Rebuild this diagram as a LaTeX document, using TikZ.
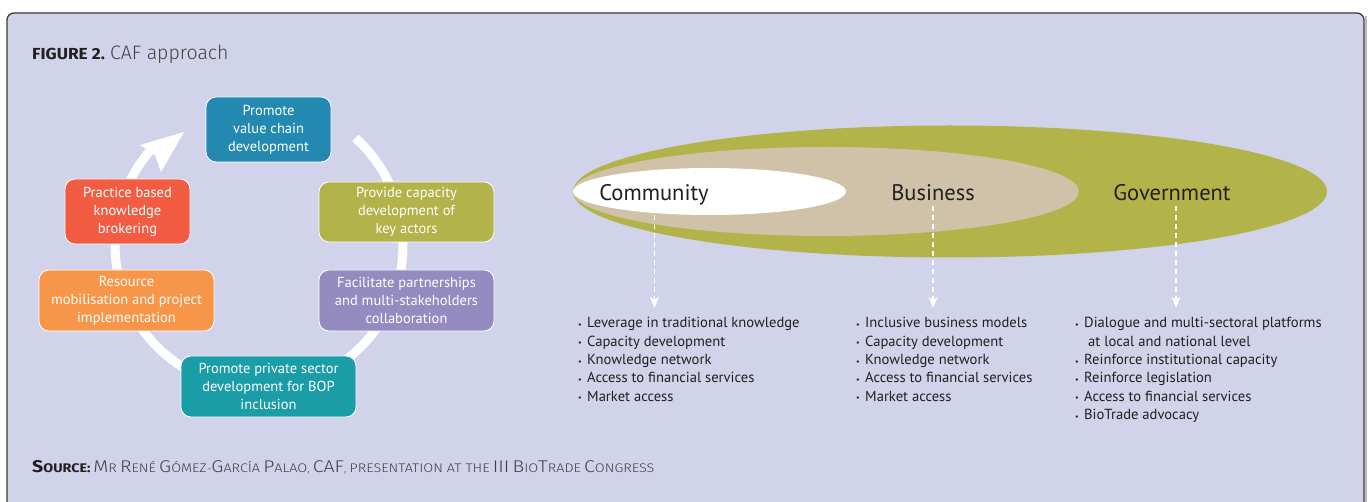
\documentclass[tikz,border=0pt]{standalone}
\usepackage{fontspec}
\setmainfont{PT Sans}
\newfontfamily\fira{Fira Sans}[FakeStretch=1.08]
\newfontfamily\firalight{Fira Sans Light}
\newfontfamily\firalightw{Fira Sans Light}[FakeStretch=1.15]
\newfontfamily\firaw{Fira Sans}[FakeStretch=1.15]
\usetikzlibrary{arrows.meta}
\definecolor{bgc}{HTML}{D0D3EA}
\definecolor{framec}{HTML}{3A3A3C}
\definecolor{cA}{HTML}{2389B0}
\definecolor{cB}{HTML}{B2B34A}
\definecolor{cC}{HTML}{948CC1}
\definecolor{cD}{HTML}{1A9DA7}
\definecolor{cE}{HTML}{F79649}
\definecolor{cF}{HTML}{F15C43}
\definecolor{olive}{HTML}{B2B348}
\definecolor{beige}{HTML}{CFC2A8}
\definecolor{txt}{HTML}{231F20}
\definecolor{srcgray}{HTML}{414042}
\newcommand{\bl}{\makebox[9pt][l]{\fontsize{8}{8}\selectfont\raisebox{0.5pt}{•}}}
\newcommand{\BG}[1]{{\fontsize{17}{17}\selectfont #1}}
\newcommand{\SM}[1]{{\fontsize{12.5}{12.5}\selectfont #1}}
\tikzset{
  box/.style={draw=white, line width=0.8pt, rounded corners=10pt, text=white,
    align=center, inner sep=0pt, font=\fontsize{14.5}{18}\selectfont},
  lbl/.style={inner sep=0pt, text=txt, font=\fontsize{22.5}{22.5}\selectfont},
  item/.style={inner sep=0pt, text=txt, font=\fontsize{14.6}{14.6}\selectfont},
  dasharrow/.style={white, line width=1.2pt, dash pattern=on 5pt off 4pt,
    -{Stealth[length=11pt,width=9pt,inset=3pt]}},
}
\begin{document}
\begin{tikzpicture}[x=1pt,y=-1pt]
\useasboundingbox (0,0) rectangle (1368,502);
\clip (0,0) rectangle (1368,502);
\fill[white] (0,0) rectangle (1368,502);
% frame
\draw[gray!55, line width=1.2pt] (1366,16) -- (1366,530);
\draw[framec, line width=1.3pt, rounded corners=7pt, fill=bgc]
  (7,540) -- (7,13) -- (1364,13) -- (1364,540);
% title
\node[anchor=base west, inner sep=0pt, text=txt] (fig) at (32,59.5)
  {\fira\bfseries\fontsize{16}{16}\selectfont FIGURE 2.};
\node[anchor=base west, inner sep=0pt, text=txt!85] (caf) at (110,59.5)
  {\firalight\fontsize{19.5}{19.5}\selectfont CAF approach};
% ring
\draw[white, line width=9pt] (259,245) ++(-48:144) arc[start angle=-48, end angle=222, radius=144];
\fill[white] (184,132) -- (140,145) -- (155,155) -- (161,172) -- cycle;
% boxes
\node[box, fill=cA, minimum width=125pt, minimum height=65pt] (A) at (268.5,129.5)
  {Promote\\value chain\\development};
\node[box, fill=cB, minimum width=175pt, minimum height=60pt] (B) at (406.5,212)
  {Provide capacity\\development of\\key actors};
\node[box, fill=cC, minimum width=175pt, minimum height=61pt] (C) at (406.5,300.5)
  {Facilitate partnerships\\and multi-stakeholders\\collaboration};
\node[box, fill=cD, minimum width=175pt, minimum height=61pt] (D) at (268.5,386.5)
  {Promote private sector\\development for BOP\\inclusion};
\node[box, fill=cE, minimum width=175pt, minimum height=61pt] (E) at (126.5,300.5)
  {Resource\\mobilisation and project\\implementation};
\node[box, fill=cF, minimum width=125pt, minimum height=65pt] (F) at (127.5,211.5)
  {Practice based\\knowledge\\brokering};
% ellipses
\fill[olive] (950,191.5) ellipse [x radius=377, y radius=66];
\fill[beige] (826,191.5) ellipse [x radius=253, y radius=44.5];
\fill[white] (709.5,191.5) ellipse [x radius=136.5, y radius=23.5];
\node[lbl, anchor=base] (comm) at (654,200.5) {Community};
\node[lbl, anchor=base] (bus) at (933,200.5) {Business};
\node[lbl, anchor=base] (gov) at (1172,200.5) {Government};
% dashed arrows
\coordinate (c1s) at (654.5,215);
\coordinate (c1e) at (654.5,308);
\coordinate (c2s) at (933,206);
\coordinate (c2e) at (933,308);
\coordinate (c3s) at (1176,206);
\coordinate (c3e) at (1176,308);
\draw[dasharrow] (c1s) -- (c1e);
\draw[dasharrow] (c2s) -- (c2e);
\draw[dasharrow] (c3s) -- (c3e);
% lists
\foreach \t [count=\i] in {Leverage in traditional knowledge, Capacity development,
  Knowledge network, Access to financial services, Market access}
  \node[item, anchor=base west] (la\i) at (578,{328+(\i-1)*18.3}) {\bl\t};
\foreach \t [count=\i] in {Inclusive business models, Capacity development,
  Knowledge network, Access to financial services, Market access}
  \node[item, anchor=base west] (lb\i) at (856,{328+(\i-1)*18.3}) {\bl\t};
\node[item, anchor=base west] (lc1) at (1075,328) {\bl Dialogue and multi-sectoral platforms};
\node[item, anchor=base west] (lc2) at (1088,346.3) {at local and national level};
\node[item, anchor=base west] (lc3) at (1075,364.6) {\bl Reinforce institutional capacity};
\node[item, anchor=base west] (lc4) at (1075,382.9) {\bl Reinforce legislation};
\node[item, anchor=base west] (lc5) at (1075,401.2) {\bl Access to financial services};
\node[item, anchor=base west] (lc6) at (1075,419.5) {\bl BioTrade advocacy};
% source
\node[anchor=base west, inner sep=0pt, text=srcgray] (src) at (32,472)
  {{\firaw\bfseries\color{txt}\BG{S}\SM{OURCE:}}\ {\firalightw\BG{M}\SM{R} \BG{R}\SM{ENÉ} \BG{G}\SM{ÓMEZ}-\BG{G}\SM{ARCÍA} \BG{P}\SM{ALAO}, \BG{CAF}, \SM{PRESENTATION AT THE} \BG{III} \BG{B}\SM{IO}\BG{T}\SM{RADE} \BG{C}\SM{ONGRESS}}};
\end{tikzpicture}
\end{document}
